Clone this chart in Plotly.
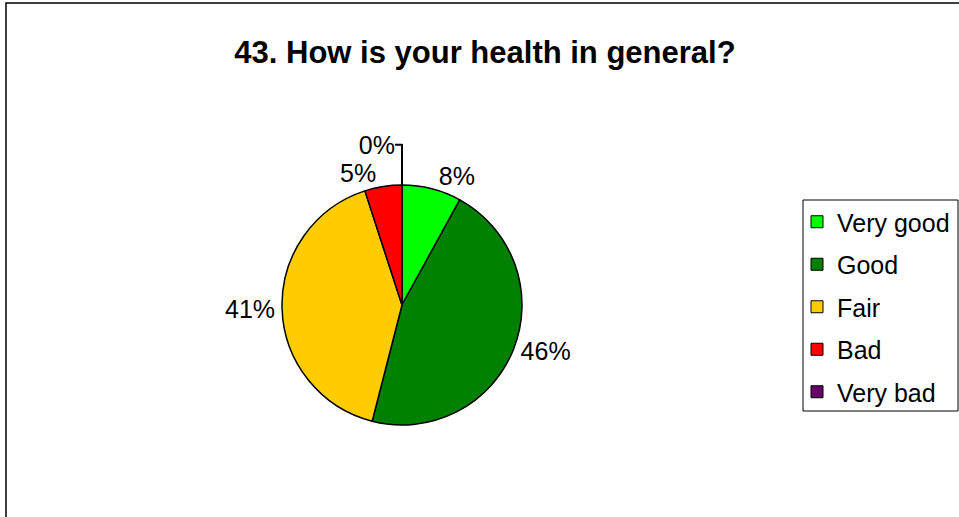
import plotly.graph_objects as go

categories = ["Very good", "Good", "Fair", "Bad", "Very bad"]
values = [8, 46, 41, 5, 0]
colors = ["#00FF00", "#008000", "#FFCC00", "#FF0000", "#660066"]
title_text = "43. How is your health in general?"

W, H = 959, 517
cx, cy, R = 402, 305, 120
FONT = "Liberation Sans, Arial"

fig = go.Figure()
fig.add_trace(go.Pie(
    labels=categories, values=values, sort=False, direction="clockwise",
    rotation=0, marker=dict(colors=colors, line=dict(color="black", width=1.5)),
    texttemplate="%{value}%", textposition="outside",
    outsidetextfont=dict(family=FONT, size=25, color="black"),
    showlegend=False, hoverinfo="label+value",
    domain=dict(x=[(cx - R) / W, (cx + R) / W], y=[(H - cy - R) / H, (H - cy + R) / H]),
))
for name, col in zip(categories, colors):
    fig.add_trace(go.Scatter(
        x=[None], y=[None], mode="markers", name=name, legendgroup=name,
        marker=dict(symbol="square", size=12, color=col, line=dict(color="black", width=1)),
    ))

fig.update_layout(
    width=W, height=H, margin=dict(l=0, r=0, t=0, b=0),
    paper_bgcolor="white", plot_bgcolor="white",
    font=dict(family=FONT, size=25, color="black"),
    title=dict(text="<b>" + title_text + "</b>", x=485 / W, xanchor="center",
               y=1 - 52 / H, yanchor="middle", font=dict(size=31)),
    xaxis=dict(visible=False), yaxis=dict(visible=False),
    legend=dict(x=797 / W, xanchor="left", y=1 - 199 / H, yanchor="top",
                borderwidth=0, bgcolor="rgba(0,0,0,0)",
                tracegroupgap=7, font=dict(size=25)),
    shapes=[
        dict(type="rect", xref="paper", yref="paper", x0=6 / W, x1=1.2,
             y0=-0.2, y1=1 - 3 / H, line=dict(color="black", width=1.5)),
        dict(type="rect", xref="paper", yref="paper", x0=803 / W, x1=958 / W,
             y0=1 - 411 / H, y1=1 - 200 / H, line=dict(color="black", width=1)),
    ],
)
fig.write_html("out.html", config={"displayModeBar": False},
               post_script="document.body.style.margin='0';document.body.style.overflow='hidden';")
